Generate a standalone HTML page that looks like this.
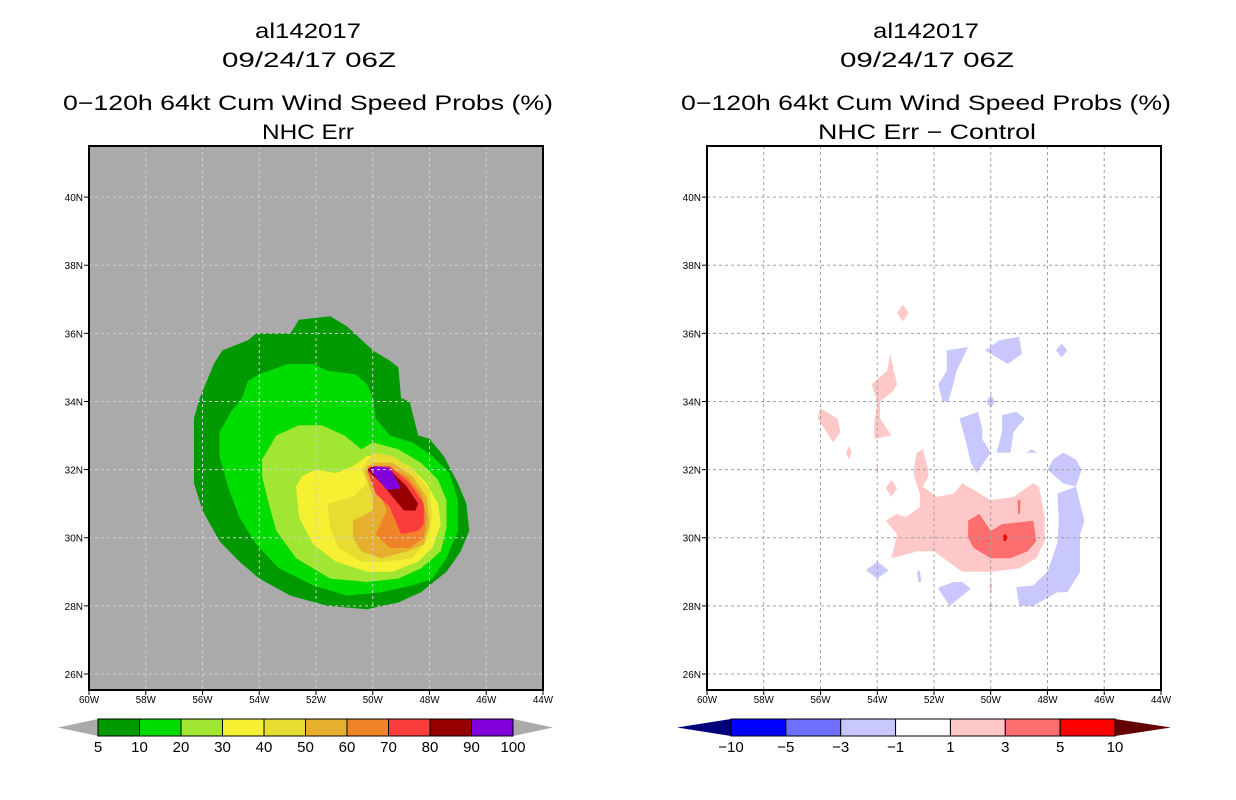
<!DOCTYPE html>
<html><head><meta charset="utf-8">
<style>
html,body{margin:0;padding:0;background:#fff;}
svg{display:block;font-family:"Liberation Sans","DejaVu Sans",sans-serif;}
</style></head>
<body>
<svg id="fig" width="1236" height="800" viewBox="0 0 1236 800">
  <g font-size="21" text-anchor="middle" fill="#000">
    <text x="308" y="38" textLength="106" lengthAdjust="spacingAndGlyphs">al142017</text>
    <text x="309" y="67" textLength="174" lengthAdjust="spacingAndGlyphs">09/24/17 06Z</text>
    <text x="308" y="110" textLength="490" lengthAdjust="spacingAndGlyphs">0−120h 64kt Cum Wind Speed Probs (%)</text>
    <text x="308" y="139" textLength="92" lengthAdjust="spacingAndGlyphs">NHC Err</text>
  </g>
  <g font-size="21" text-anchor="middle" fill="#000">
    <text x="926" y="38" textLength="106" lengthAdjust="spacingAndGlyphs">al142017</text>
    <text x="927" y="67" textLength="174" lengthAdjust="spacingAndGlyphs">09/24/17 06Z</text>
    <text x="926" y="110" textLength="490" lengthAdjust="spacingAndGlyphs">0−120h 64kt Cum Wind Speed Probs (%)</text>
    <text x="927" y="139" textLength="218" lengthAdjust="spacingAndGlyphs">NHC Err − Control</text>
  </g>
</svg>
<script>
// ----- shared axis data -----
const lonTicks = [-60,-58,-56,-54,-52,-50,-48,-46,-44];
const lonTickLabels = ["60W","58W","56W","54W","52W","50W","48W","46W","44W"];
const latTicks = [26,28,30,32,34,36,38,40];
const latTickLabels = ["26N","28N","30N","32N","34N","36N","38N","40N"];

// ----- left panel: cumulative probability contours (lon, lat) -----
const probLevels = [5,10,20,30,40,50,60,70,80,90,100];
const probColors = ["#009a00","#00dc00","#a0e632","#f5f032","#e6dc32","#e6af2d","#f08228","#fa3c3c","#960000","#8200dc"];
const probPolygons = [
 [[-52.9,36.0],[-52.6,36.4],[-51.5,36.5],[-50.9,36.2],[-50.0,35.5],[-49.4,35.2],[-49.1,35.0],[-49.0,34.1],[-48.7,34.0],[-48.4,33.0],[-48.0,32.9],[-47.5,32.4],[-47.0,31.6],[-46.7,31.0],[-46.6,30.2],[-46.9,29.6],[-47.4,29.0],[-48.3,28.4],[-49.1,28.1],[-50.2,27.9],[-51.6,28.0],[-52.9,28.3],[-54.0,28.8],[-54.7,29.3],[-55.4,29.9],[-56.0,30.8],[-56.3,31.6],[-56.3,32.6],[-56.3,33.5],[-56.1,34.1],[-55.6,35.1],[-55.3,35.5],[-54.4,35.8],[-54.1,36.0]],
 [[-54.4,34.6],[-54.0,34.8],[-53.0,35.1],[-52.1,35.1],[-51.6,34.9],[-50.6,34.8],[-50.2,34.5],[-50.0,34.1],[-49.9,33.5],[-49.4,33.0],[-48.6,32.8],[-47.9,32.4],[-47.3,31.9],[-47.0,31.1],[-47.0,30.2],[-47.4,29.4],[-47.9,28.8],[-48.6,28.6],[-49.7,28.4],[-50.9,28.3],[-52.1,28.6],[-53.3,29.1],[-54.1,29.8],[-54.7,30.6],[-55.1,31.5],[-55.4,32.4],[-55.4,33.1],[-55.0,33.7],[-54.6,34.1]],
 [[-53.9,32.3],[-53.4,33.0],[-52.6,33.3],[-51.8,33.3],[-51.0,33.0],[-50.4,32.6],[-50.0,32.8],[-49.1,32.6],[-48.3,32.2],[-47.7,31.7],[-47.4,31.1],[-47.4,30.3],[-47.6,29.6],[-48.3,29.1],[-49.1,28.8],[-50.2,28.7],[-51.5,28.8],[-52.7,29.4],[-53.4,30.2],[-53.7,31.1],[-53.9,31.8]],
 [[-52.7,31.5],[-52.5,31.8],[-52.0,32.0],[-51.3,31.9],[-50.7,32.1],[-50.2,32.4],[-49.5,32.4],[-48.7,32.1],[-48.1,31.6],[-47.7,31.0],[-47.6,30.4],[-47.9,29.7],[-48.4,29.3],[-49.3,29.0],[-50.2,29.0],[-51.3,29.3],[-52.1,29.8],[-52.6,30.6]],
 [[-51.6,31.0],[-50.7,31.2],[-50.2,31.6],[-50.4,32.0],[-50.0,32.5],[-49.3,32.4],[-48.6,32.0],[-48.0,31.4],[-47.9,30.6],[-48.1,29.9],[-48.6,29.4],[-49.5,29.3],[-50.4,29.3],[-51.2,29.7],[-51.5,30.3]],
 [[-50.7,30.5],[-50.0,30.8],[-50.0,31.2],[-50.3,32.0],[-50.0,32.2],[-49.3,32.2],[-48.6,31.8],[-48.1,31.2],[-48.0,30.4],[-48.2,29.8],[-48.8,29.6],[-49.7,29.4],[-50.4,29.6],[-50.7,30.0]],
 [[-49.9,30.1],[-49.5,30.8],[-50.2,32.1],[-49.5,32.1],[-48.8,31.8],[-48.3,31.3],[-48.1,30.6],[-48.2,30.0],[-48.7,29.7],[-49.4,29.7]],
 [[-50.2,32.0],[-50.0,32.1],[-49.4,32.1],[-48.7,31.6],[-48.2,31.0],[-48.2,30.4],[-48.4,30.2],[-49.0,30.1],[-49.4,30.9],[-49.9,31.3]],
 [[-50.2,32.0],[-50.0,32.1],[-49.4,32.0],[-48.8,31.5],[-48.4,31.0],[-48.5,30.8],[-48.9,30.8],[-49.3,31.2],[-49.7,31.6]],
 [[-50.1,32.0],[-49.9,32.1],[-49.4,32.05],[-49.0,31.45],[-49.5,31.4],[-49.8,31.7]]
];

// ----- right panel: difference contours -----
const diffLevels = ["−10","−5","−3","−1","1","3","5","10"];
const diffColors = ["#00007a","#0000ff","#6e6eff","#c8c8ff","#ffffff","#ffc8c8","#ff6e6e","#ff0000","#640000"];
// [colorIndex, polygon]
const diffPolygons = [
 [5,[[-53.7,30.5],[-53.3,30.7],[-53.0,30.6],[-52.5,30.9],[-52.5,31.3],[-52.7,31.8],[-52.7,32.1],[-52.6,32.5],[-52.4,32.6],[-52.2,32.0],[-52.2,31.8],[-52.4,31.5],[-51.9,31.2],[-51.3,31.3],[-51.0,31.6],[-50.0,31.1],[-49.2,31.2],[-48.5,31.6],[-48.3,31.5],[-48.1,30.6],[-48.1,29.9],[-48.4,29.4],[-49.0,29.1],[-50.0,29.0],[-51.0,29.0],[-51.5,29.3],[-52.0,29.6],[-52.6,29.6],[-53.5,29.4],[-53.3,30.1]]],
 [6,[[-50.8,30.5],[-50.4,30.7],[-50.0,30.2],[-49.6,30.4],[-48.5,30.5],[-48.4,29.9],[-48.7,29.6],[-49.3,29.4],[-50.0,29.4],[-50.6,29.7],[-50.8,30.0]]],
 [6,[[-49.05,31.1],[-48.95,31.1],[-48.97,30.7],[-49.03,30.7]]],
 [7,[[-49.6,30.0],[-49.5,30.12],[-49.4,30.0],[-49.5,29.88]]],
 [5,[[-53.1,36.85],[-52.9,36.6],[-53.1,36.35],[-53.3,36.6]]],
 [5,[[-53.55,35.4],[-53.3,34.5],[-53.45,34.3],[-53.9,34.0],[-53.9,33.5],[-53.5,33.0],[-54.1,32.9],[-54.1,33.4],[-54.0,34.0],[-54.2,34.5],[-53.65,34.9]]],
 [5,[[-56.0,33.8],[-55.4,33.5],[-55.3,33.1],[-55.55,32.8],[-56.1,33.5]]],
 [5,[[-55.0,32.7],[-54.9,32.5],[-55.0,32.3],[-55.1,32.5]]],
 [5,[[-54.0,32.1],[-53.95,32.0],[-54.0,31.9],[-54.05,32.0]]],
 [5,[[-53.5,31.7],[-53.3,31.45],[-53.5,31.2],[-53.7,31.45]]],
 [5,[[-50.0,28.8],[-49.95,28.55],[-50.0,28.3],[-50.05,28.55]]],
 [3,[[-51.55,35.5],[-50.8,35.6],[-51.2,34.9],[-51.35,34.4],[-51.5,34.0],[-51.7,34.0],[-51.85,34.5],[-51.55,34.9]]],
 [3,[[-50.2,35.5],[-49.7,35.8],[-49.0,35.9],[-48.9,35.4],[-49.4,35.1]]],
 [3,[[-47.5,35.7],[-47.3,35.5],[-47.5,35.3],[-47.7,35.5]]],
 [3,[[-50.0,34.2],[-49.85,34.0],[-50.0,33.8],[-50.15,34.0]]],
 [3,[[-51.1,33.5],[-50.45,33.7],[-50.3,33.2],[-50.3,32.9],[-50.0,32.5],[-50.5,31.9],[-50.7,32.2],[-50.9,32.9],[-51.0,33.2]]],
 [3,[[-49.6,33.6],[-49.1,33.7],[-48.8,33.5],[-49.2,33.1],[-49.3,32.5],[-49.8,32.5],[-49.6,33.1]]],
 [3,[[-48.55,32.6],[-48.35,32.5],[-48.75,32.5]]],
 [3,[[-48.0,32.0],[-47.8,32.3],[-47.45,32.5],[-47.0,32.3],[-46.8,32.0],[-47.0,31.5],[-47.45,31.6]]],
 [3,[[-47.65,31.3],[-47.0,31.5],[-46.7,30.5],[-46.85,30.1],[-46.85,29.0],[-47.3,28.4],[-47.65,28.4],[-48.5,28.0],[-49.0,28.0],[-49.1,28.55],[-48.5,28.6],[-48.0,29.0],[-47.65,29.85],[-47.6,30.5]]],
 [3,[[-51.8,28.55],[-51.3,28.7],[-51.0,28.7],[-50.7,28.5],[-51.45,28.0],[-51.85,28.5]]],
 [3,[[-54.0,29.3],[-53.6,29.05],[-54.0,28.8],[-54.4,29.05]]],
 [3,[[-52.5,29.05],[-52.45,28.7],[-52.55,28.7],[-52.6,29.0]]],
 [3,[[-50.0,28.05],[-49.9,28.0],[-50.0,27.95],[-50.1,28.0]]]
];

const NS = "http://www.w3.org/2000/svg";
const svg = document.getElementById("fig");
function mk(tag, attrs, parent){ const e=document.createElementNS(NS,tag); for(const k in attrs) e.setAttribute(k,attrs[k]); (parent||svg).appendChild(e); return e; }

const mapTop = 146, mapBottom = 690, mapW = 454;
const lonMin = -60, lonMax = -44, latMin = 25.53, latMax = 41.5;
function makeX(left){ return lon => left + (lon - lonMin) / (lonMax - lonMin) * mapW; }
function yScale(lat){ return mapBottom - (lat - latMin) / (latMax - latMin) * (mapBottom - mapTop); }

function drawPanel(left, bg, gridColor, polys, colorFor, name){
  const xScale = makeX(left);
  const g = mk("g", {});
  
  
  const bgRect = mk("rect", {x:left, y:mapTop, width:mapW, height:mapBottom-mapTop, fill:bg}, g);
  
  
  polys.forEach((p, i) => {
    const pts = p.pts.map(d => xScale(d[0]).toFixed(1) + "," + yScale(d[1]).toFixed(1)).join(" ");
    const poly = mk("polygon", {points:pts, fill:colorFor(p)}, g);
    
    
  });
  lonTicks.slice(1, -1).forEach(lon => {
    const l = mk("line", {x1:xScale(lon), x2:xScale(lon), y1:mapTop, y2:mapBottom, stroke:gridColor, "stroke-width":1, "stroke-dasharray":"3,3"}, g);
    
    
  });
  latTicks.forEach(lat => {
    const l = mk("line", {x1:left, x2:left+mapW, y1:yScale(lat), y2:yScale(lat), stroke:gridColor, "stroke-width":1, "stroke-dasharray":"3,3"}, g);
    
    
  });
  const frame = mk("rect", {x:left, y:mapTop, width:mapW, height:mapBottom-mapTop, fill:"none", stroke:"#000", "stroke-width":2}, g);
  
  
  lonTicks.forEach((lon, i) => {
    const x = xScale(lon);
    mk("line", {x1:x, x2:x, y1:mapBottom, y2:mapBottom+5, stroke:"#000"}, g);
    const t = mk("text", {x:x, y:mapBottom+13, "font-size":10, "text-anchor":"middle", textLength:20, lengthAdjust:"spacingAndGlyphs"}, g);
    t.textContent = lonTickLabels[i];
    
    
  });
  latTicks.forEach((lat, i) => {
    const y = yScale(lat);
    mk("line", {x1:left-5, x2:left, y1:y, y2:y, stroke:"#000"}, g);
    const t = mk("text", {x:left-6, y:y+4, "font-size":10, "text-anchor":"end"}, g);
    t.textContent = latTickLabels[i];
    
    
  });
}

drawPanel(89, "#aaaaaa", "#cfcfcf",
  probPolygons.map((pts, i) => ({pts, c:i})), p => probColors[p.c], "left");
drawPanel(707, "#ffffff", "#a0a0a0",
  diffPolygons.map(d => ({pts:d[1], c:d[0]})), p => diffColors[p.c], "right");

function colorbar(tipL, boxL, boxR, tipR, colors, labels, leftCol, rightCol, name){
  const y0 = 719, y1 = 736, ym = (y0+y1)/2;
  const g = mk("g", {});
  
  
  const n = colors.length, w = (boxR - boxL) / n;
  const lt = mk("polygon", {points:`${tipL},${ym} ${boxL},${y0} ${boxL},${y1}`, fill:leftCol}, g);
  
  
  const rt = mk("polygon", {points:`${tipR},${ym} ${boxR},${y0} ${boxR},${y1}`, fill:rightCol}, g);
  
  
  colors.forEach((c, i) => {
    const r = mk("rect", {x:boxL + i*w, y:y0, width:w, height:y1-y0, fill:c, stroke:"#000", "stroke-width":1}, g);
    
    
  });
  labels.forEach((l, i) => {
    const t = mk("text", {x:boxL + i*w, y:752, "font-size":15, "text-anchor":"middle"}, g);
    t.textContent = l;
    
    
  });
}
colorbar(58, 98, 513, 553, probColors, probLevels.map(String), "#aaaaaa", "#aaaaaa", "left-colorbar");
colorbar(677, 731, 1115, 1171, diffColors.slice(1, 8), diffLevels, diffColors[0], diffColors[8], "right-colorbar");
</script>
</body></html>
